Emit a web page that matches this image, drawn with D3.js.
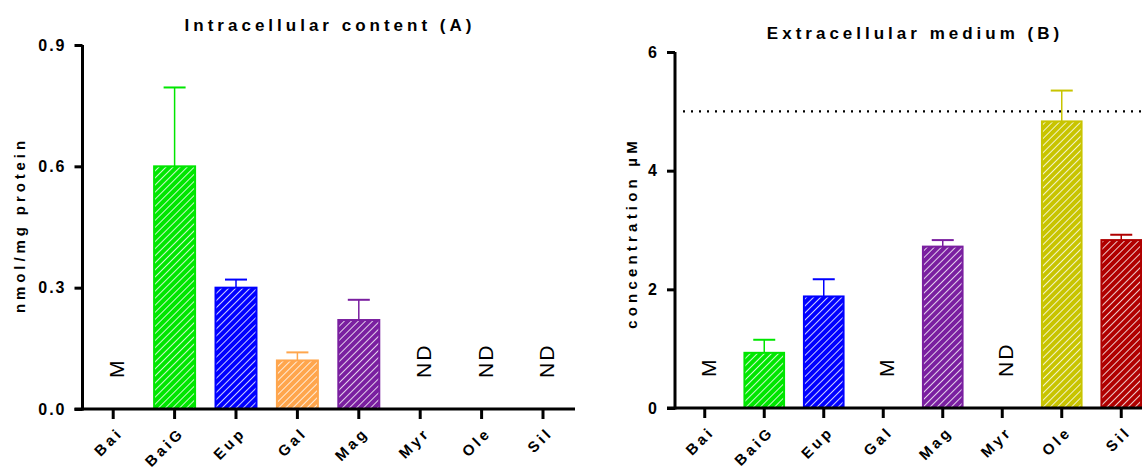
<!DOCTYPE html>
<html>
<head>
<meta charset="utf-8">
<script src="https://cdn.jsdelivr.net/npm/d3@7"></script>
<style>
  body { margin: 0; background: #fff; }
  text { font-family: "Liberation Sans", Arial, sans-serif; }
</style>
</head>
<body>
<svg id="chart" width="1142" height="470"></svg>
<script>
const categories = ["Bai", "BaiG", "Eup", "Gal", "Mag", "Myr", "Ole", "Sil"];
const colors = ["#000", "#00e600", "#0000ff", "#ffa64d", "#7a1fa0", "#000", "#c8c400", "#b00000"];

// panel A: intracellular, nmol/mg protein (null = not a bar)
const valuesA = [null, 0.60, 0.30, 0.12, 0.22, null, null, null];
const errorsA = [null, 0.195, 0.02, 0.02, 0.05, null, null, null];
const notesA = ["M", null, null, null, null, "ND", "ND", "ND"];
const ticksA = [0, 0.3, 0.6, 0.9];

// panel B: extracellular, concentration µM
const valuesB = [null, 0.93, 1.88, null, 2.72, null, 4.83, 2.83];
const errorsB = [null, 0.22, 0.29, null, 0.11, null, 0.52, 0.09];
const notesB = ["M", null, null, "M", null, "ND", null, null];
const ticksB = [0, 2, 4, 6];
const refLineB = 5;

const svg = d3.select("#chart");
const defs = svg.append("defs");

colors.forEach((c, i) => {
  const p = defs.append("pattern")
    .attr("id", "hatch" + i)
    .attr("patternUnits", "userSpaceOnUse")
    .attr("width", 5).attr("height", 5)
    .attr("patternTransform", "rotate(45)");
  p.append("rect").attr("width", 5).attr("height", 5).attr("fill", c);
  p.append("line").attr("x1", 0).attr("y1", 0).attr("x2", 0).attr("y2", 5)
    .attr("stroke", "#fff").attr("stroke-width", 1.6);
});

function panel(opt) {
  const g = svg.append("g");
  const x = d3.scaleBand().domain(categories)
    .range([opt.axisX, opt.axisX + opt.step * categories.length]).paddingInner(0.3).paddingOuter(0.15);
  const y = d3.scaleLinear().domain([0, opt.ticks[opt.ticks.length - 1]]).range([opt.yBottom, opt.yTop]);

  // bars + error bars
  categories.forEach((c, i) => {
    const v = opt.values[i];
    if (v == null) return;
    const bx = x(c), bw = x.bandwidth();
    g.append("rect")
      .attr("x", bx + 1).attr("y", y(v)).attr("width", bw - 2).attr("height", y(0) - y(v))
      .attr("fill", `url(#hatch${i})`)
      .attr("stroke", colors[i]).attr("stroke-width", 2);
    const cx = bx + bw / 2, top = y(v + opt.errors[i]);
    g.append("line").attr("x1", cx).attr("x2", cx).attr("y1", y(v)).attr("y2", top)
      .attr("stroke", colors[i]).attr("stroke-width", 1.5);
    g.append("line").attr("x1", cx - 11).attr("x2", cx + 11).attr("y1", top).attr("y2", top)
      .attr("stroke", colors[i]).attr("stroke-width", 2);
  });

  // notes (M / ND)
  categories.forEach((c, i) => {
    const n = opt.notes[i];
    if (!n) return;
    const cx = x(c) + x.bandwidth() / 2;
    g.append("text")
      .attr("transform", `translate(${cx + 11},${opt.yBottom - 31}) rotate(-90)`)
      .attr("font-size", 21).attr("letter-spacing", 2)
      .text(n);
  });

  if (opt.refLine != null) {
    g.append("line")
      .attr("x1", opt.axisX + 8).attr("x2", 1142)
      .attr("y1", y(opt.refLine)).attr("y2", y(opt.refLine))
      .attr("stroke", "#000").attr("stroke-width", 2.2).attr("stroke-dasharray", "2,6");
  }

  // y axis
  const yAxis = g.append("g").attr("transform", `translate(${opt.axisX},0)`)
    .call(d3.axisLeft(y).tickValues(opt.ticks).tickFormat(opt.fmt).tickSize(8).tickPadding(8));
  yAxis.select(".domain").attr("stroke-width", 3).attr("d", `M0,${opt.yTop}V${opt.yBottom + 1.5}`);
  yAxis.selectAll(".tick line").attr("stroke-width", 3);
  yAxis.selectAll(".tick text").attr("font-size", 16).attr("font-weight", "bold").attr("letter-spacing", 2);

  // x axis
  const xAxis = g.append("g").attr("transform", `translate(0,${opt.yBottom})`)
    .call(d3.axisBottom(x).tickSize(10).tickSizeOuter(0));
  xAxis.select(".domain").attr("stroke-width", 3).attr("d", `M${opt.axisX - 8},0H${opt.xEnd}`);
  xAxis.selectAll(".tick line").attr("stroke-width", 3);
  xAxis.selectAll(".tick text")
    .attr("font-size", 15).attr("font-weight", "bold").attr("letter-spacing", 3.3)
    .attr("text-anchor", "end")
    .attr("transform", "translate(7,21) rotate(-45)")
    .attr("dy", "0.35em").attr("y", 0).attr("x", 0);

  g.append("text")
    .attr("x", opt.titleX).attr("y", opt.titleY)
    .attr("text-anchor", "middle").attr("font-size", 17).attr("font-weight", "bold").attr("letter-spacing", 4)
    .text(opt.title);

  g.append("text")
    .attr("transform", `translate(${opt.labelX},${opt.labelY}) rotate(-90)`)
    .attr("text-anchor", "middle").attr("font-size", 15).attr("font-weight", "bold").attr("letter-spacing", opt.labelSpacing)
    .text(opt.label);
}

panel({
  step: 61.4, axisX: 82.5, xEnd: 575, yTop: 45, yBottom: 409,
  values: valuesA, errors: errorsA, notes: notesA, ticks: ticksA,
  fmt: d3.format(".1f"),
  title: "Intracellular content (A)", titleX: 330, titleY: 31,
  label: "nmol/mg protein", labelX: 25, labelY: 225, labelSpacing: 3.9
});

panel({
  step: 59.5, axisX: 675, xEnd: 1142, yTop: 52, yBottom: 408,
  values: valuesB, errors: errorsB, notes: notesB, ticks: ticksB,
  fmt: d3.format("d"), refLine: refLineB,
  title: "Extracellular medium (B)", titleX: 915, titleY: 39,
  label: "concentration µM", labelX: 637, labelY: 233, labelSpacing: 4.2
});
</script>
</body>
</html>
